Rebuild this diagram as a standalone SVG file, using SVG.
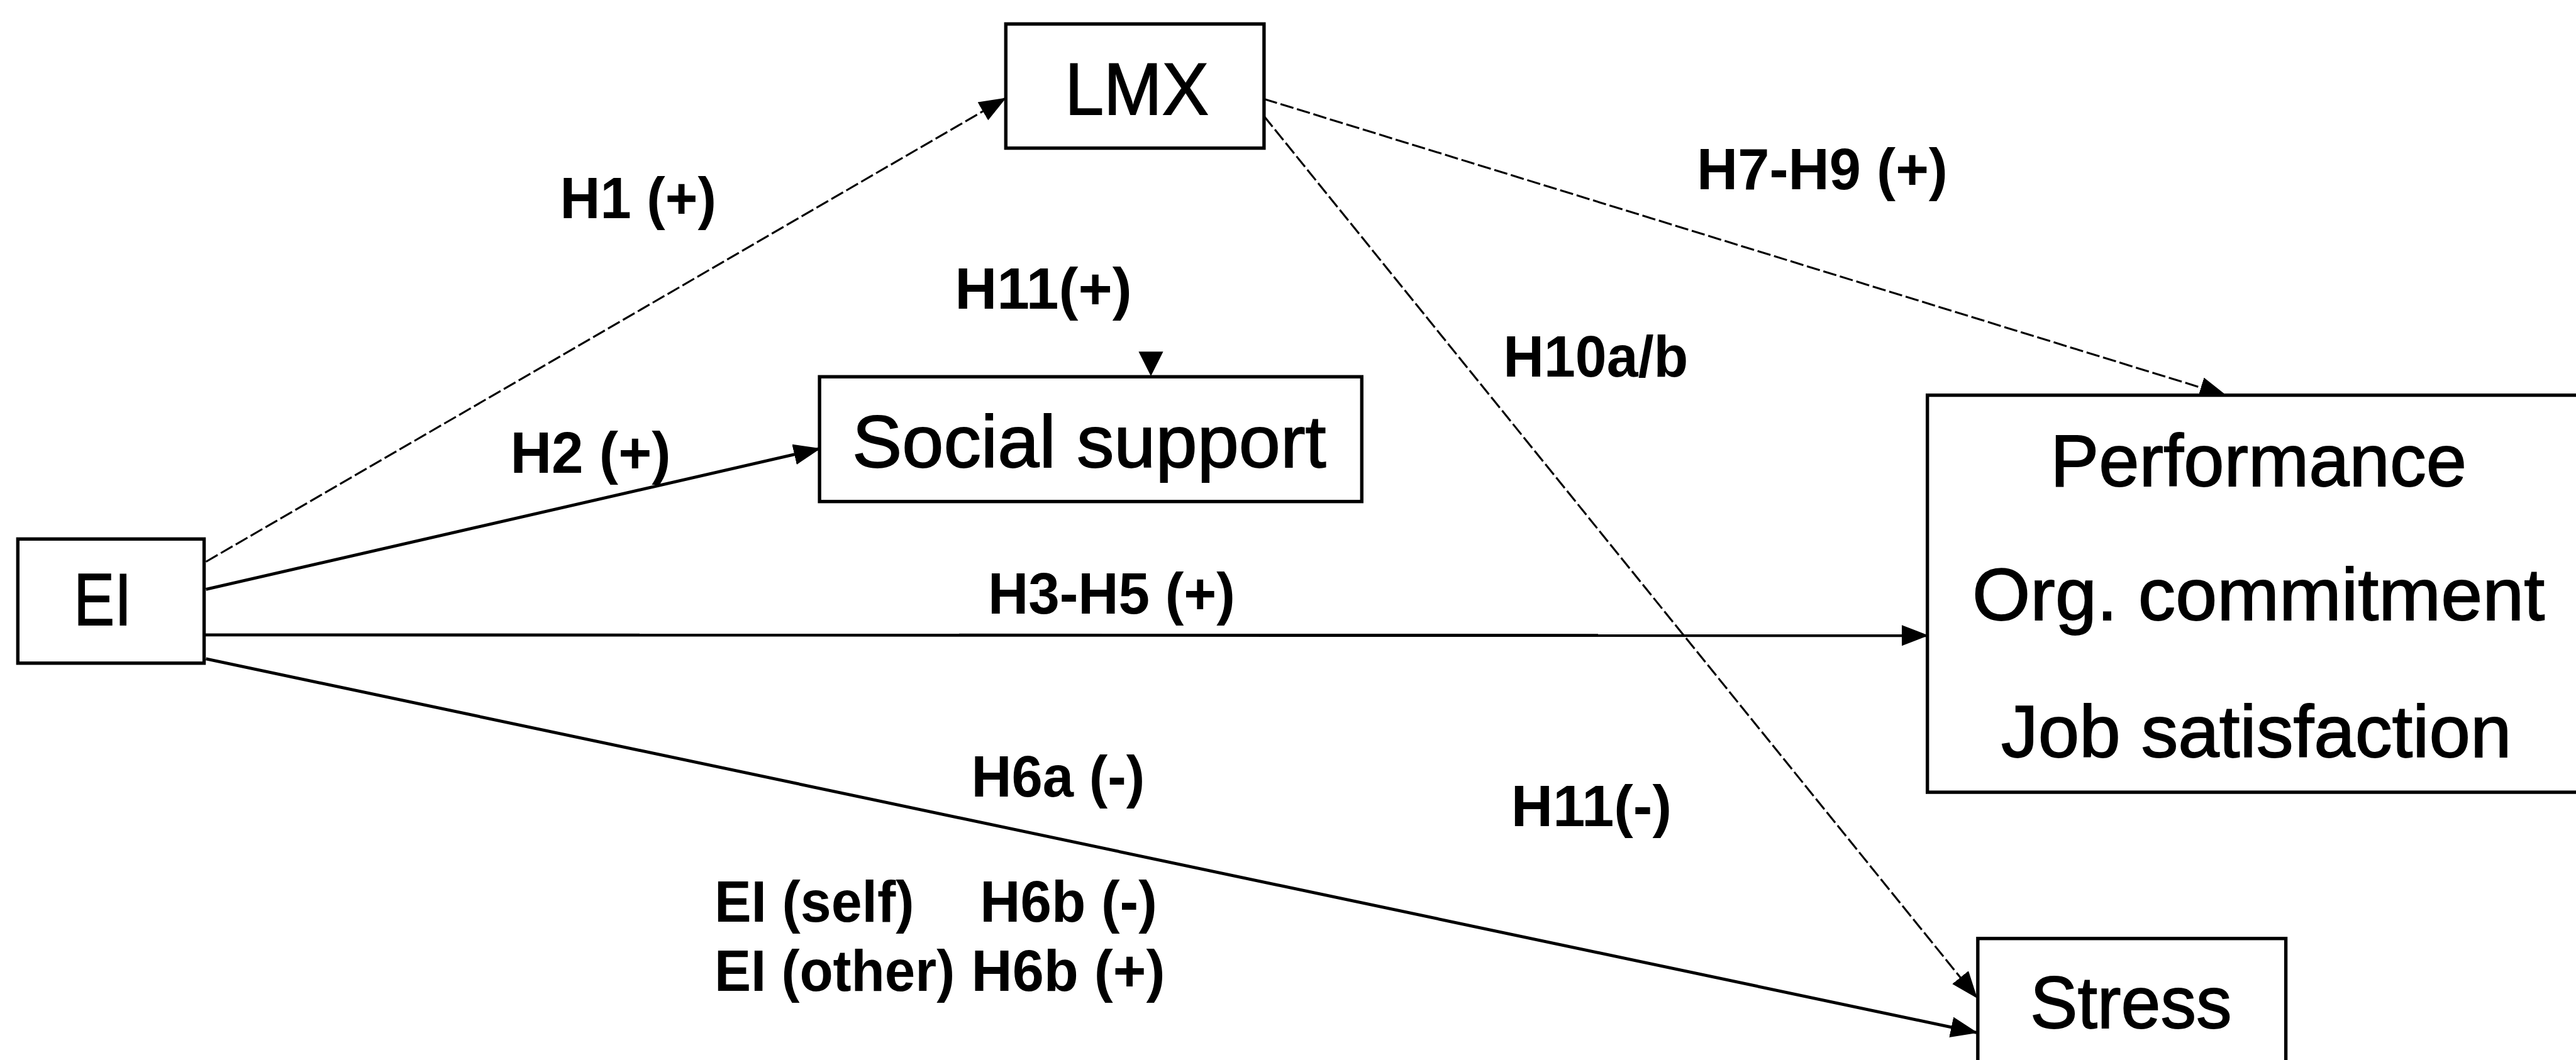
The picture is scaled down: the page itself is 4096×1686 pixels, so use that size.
<svg xmlns="http://www.w3.org/2000/svg" width="4096" height="1686" viewBox="0 0 4096 1686">
<style>
.box{fill:#fff;stroke:#000;stroke-width:5.5}
.nt{font-family:"Liberation Sans",Arial,Helvetica,sans-serif;font-size:120px;fill:#000;stroke:#000;stroke-width:1.8}
.lb{font-family:"Liberation Sans",Arial,Helvetica,sans-serif;font-size:94px;font-weight:bold;fill:#000}
.c{fill:none;stroke:#000;stroke-width:5}
.d{fill:none;stroke:#000;stroke-width:3.2;stroke-dasharray:22 6}
</style>
<defs>
<marker id="ah" markerUnits="userSpaceOnUse" markerWidth="44" markerHeight="34" refX="42" refY="17" orient="auto" viewBox="0 0 44 34"><path d="M0,0 L44,17 L0,34 z" fill="#000"/></marker>
</defs>
<rect width="4096" height="1686" fill="#fff"/>
<g transform="scale(0.97757)">
<g id="connectors">
<line class="d" x1="335" y1="914" x2="1635" y2="160" marker-end="url(#ah)"/>
<line class="c" x1="335" y1="959" x2="1333" y2="730" marker-end="url(#ah)"/>
<line class="c" x1="332" y1="1033" x2="3135" y2="1034" marker-end="url(#ah)"/>
<line class="c" x1="335" y1="1072" x2="3215" y2="1680" marker-end="url(#ah)"/>
<line class="d" x1="2056" y1="161" x2="3620" y2="643" marker-end="url(#ah)"/>
<line class="d" x1="2056" y1="189" x2="3215" y2="1623" marker-end="url(#ah)"/>
<path d="M1852,572 L1892,572 L1872,612 z" fill="#000"/>
</g>
<g id="node-lmx">
<rect class="box" x="1636" y="39" width="420" height="202"/>
<text class="nt" x="1732" y="186" textLength="234" lengthAdjust="spacingAndGlyphs">LMX</text>
</g>
<g id="node-social">
<rect class="box" x="1333" y="613" width="882" height="203"/>
<text class="nt" x="1386" y="760" textLength="771" lengthAdjust="spacingAndGlyphs">Social support</text>
</g>
<g id="node-ei">
<rect class="box" x="29" y="877" width="303" height="202"/>
<text class="nt" x="120" y="1017" textLength="94" lengthAdjust="spacingAndGlyphs">EI</text>
</g>
<g id="node-outcomes">
<rect class="box" x="3135" y="643" width="1200" height="646"/>
<text class="nt" x="3335" y="791" textLength="677" lengthAdjust="spacingAndGlyphs">Performance</text>
<text class="nt" x="3208" y="1009" textLength="931" lengthAdjust="spacingAndGlyphs">Org. commitment</text>
<text class="nt" x="3255" y="1232" textLength="830" lengthAdjust="spacingAndGlyphs">Job satisfaction</text>
</g>
<g id="node-stress">
<rect class="box" x="3217" y="1527" width="501" height="300"/>
<text class="nt" x="3302" y="1673" textLength="328" lengthAdjust="spacingAndGlyphs">Stress</text>
</g>
<g id="labels">
<text class="lb" x="911" y="355" textLength="254" lengthAdjust="spacingAndGlyphs">H1 (+)</text>
<text class="lb" x="1553" y="502" textLength="288" lengthAdjust="spacingAndGlyphs">H11(+)</text>
<text class="lb" x="830" y="769" textLength="261" lengthAdjust="spacingAndGlyphs">H2 (+)</text>
<text class="lb" x="1607" y="998" textLength="402" lengthAdjust="spacingAndGlyphs">H3-H5 (+)</text>
<text class="lb" x="1580" y="1296" textLength="282" lengthAdjust="spacingAndGlyphs">H6a (-)</text>
<text class="lb" x="1162" y="1500" textLength="325" lengthAdjust="spacingAndGlyphs">EI (self)</text>
<text class="lb" x="1594" y="1500" textLength="288" lengthAdjust="spacingAndGlyphs">H6b (-)</text>
<text class="lb" x="1162" y="1612" textLength="391" lengthAdjust="spacingAndGlyphs">EI (other)</text>
<text class="lb" x="1580" y="1612" textLength="315" lengthAdjust="spacingAndGlyphs">H6b (+)</text>
<text class="lb" x="2760" y="308" textLength="408" lengthAdjust="spacingAndGlyphs">H7-H9 (+)</text>
<text class="lb" x="2445" y="613" textLength="301" lengthAdjust="spacingAndGlyphs">H10a/b</text>
<text class="lb" x="2458" y="1344" textLength="261" lengthAdjust="spacingAndGlyphs">H11(-)</text>
</g>
</g>
</svg>
